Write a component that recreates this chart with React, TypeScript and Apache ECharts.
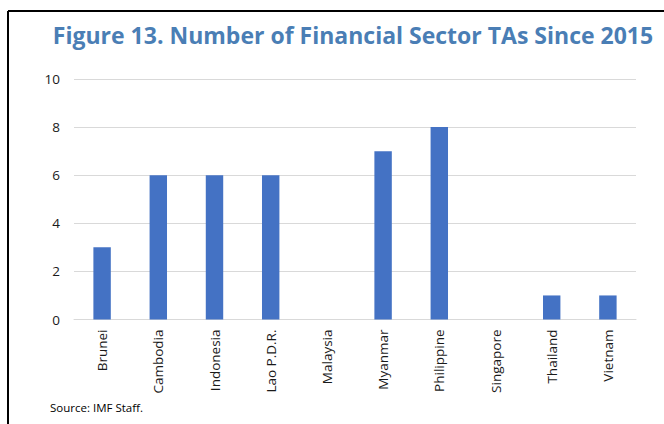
import React, { useEffect, useRef } from "react";
import * as echarts from "echarts";

const categories = ["Brunei", "Cambodia", "Indonesia", "Lao P.D.R.", "Malaysia", "Myanmar", "Philippine", "Singapore", "Thailand", "Vietnam"];
const values = [3, 6, 6, 6, 0, 7, 8, 0, 1, 1];
const titleText = "Figure 13. Number of Financial Sector TAs Since 2015";
const sourceText = "Source: IMF Staff.";

export default function App() {
  const ref = useRef<HTMLDivElement>(null);
  useEffect(() => {
    if (!ref.current) return;
    const chart = echarts.init(ref.current, null, { renderer: "svg" });
    const font = "'Open Sans', 'Noto Sans', sans-serif";
    chart.setOption({
      animation: false,
      backgroundColor: "#ffffff",
      title: {
        text: titleText,
        left: 348,
        textAlign: "center",
        top: 18,
        textStyle: { color: "#4A7EB5", fontSize: 23, fontWeight: "bold", fontFamily: font },
      },
      grid: { left: 74, right: 28, top: 79, bottom: 104.5 },
      xAxis: {
        type: "category",
        data: categories,
        axisLine: { lineStyle: { color: "#D9D9D9", width: 1 } },
        axisTick: { show: false },
        axisLabel: { rotate: 90, color: "#1a1a1a", fontSize: 13.5, fontFamily: font, margin: 10, interval: 0 },
      },
      yAxis: {
        type: "value",
        min: 0,
        max: 10,
        interval: 2,
        axisLine: { show: false },
        axisTick: { show: false },
        splitLine: { lineStyle: { color: "#D9D9D9", width: 1 } },
        axisLabel: { color: "#1a1a1a", fontSize: 13.5, fontFamily: font, margin: 14 },
      },
      series: [
        {
          type: "bar",
          data: values,
          barWidth: "31%",
          itemStyle: { color: "#4472C4" },
        },
      ],
      graphic: [
        { type: "line", shape: { x1: 8, y1: 11, x2: 664, y2: 11 }, style: { stroke: "#000", lineWidth: 2 } },
        { type: "line", shape: { x1: 8, y1: 11, x2: 8, y2: 424 }, style: { stroke: "#000", lineWidth: 2 } },
        {
          type: "text",
          left: 50,
          top: 401,
          style: { text: sourceText, fill: "#000", fontSize: 11.5, fontFamily: font },
        },
      ],
    });
    return () => chart.dispose();
  }, []);
  return <div ref={ref} style={{ position: "fixed", left: 0, top: 0, width: 664, height: 424 }} />;
}
